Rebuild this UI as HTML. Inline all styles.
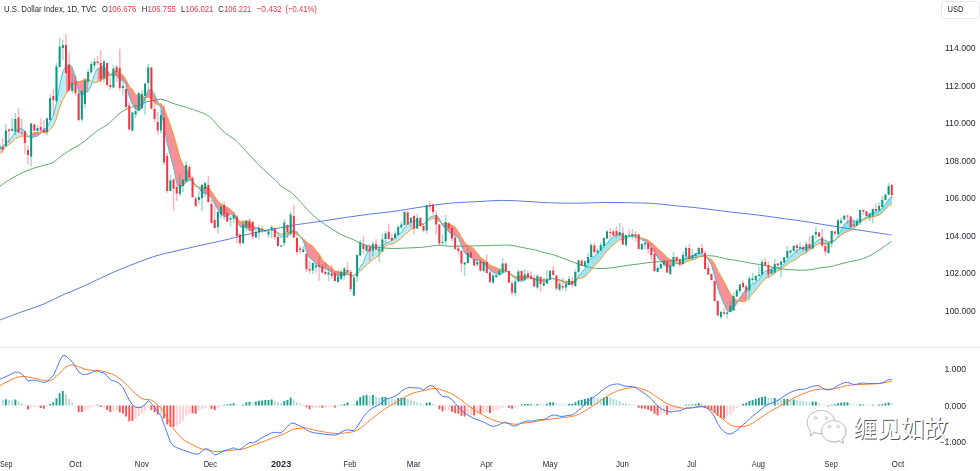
<!DOCTYPE html><html><head><meta charset="utf-8"><title>chart</title><style>html,body{margin:0;padding:0;background:#fff;overflow:hidden}svg{display:block}</style></head><body><svg width="980" height="471" viewBox="0 0 980 471" font-family="Liberation Sans, sans-serif"><rect width="980" height="471" fill="#fff"/><rect x="0" y="347" width="980" height="1" fill="#e6e8ee"/><defs><filter id="sb" x="-1%" y="-1%" width="102%" height="102%"><feGaussianBlur stdDeviation="0.38"/></filter></defs><g filter="url(#sb)"><path d="M0 320C3.57 318.67 14.25 314.6 21.4 312C28.55 309.4 35.75 307.35 42.9 304.4C50.05 301.45 57.17 297.48 64.3 294.3C71.43 291.12 78.57 288.52 85.7 285.3C92.83 282.08 99.95 278.22 107.1 275C114.25 271.78 121.45 268.85 128.6 266C135.75 263.15 144.65 259.8 150 257.9C155.35 256 157.13 255.58 160.7 254.6C164.27 253.62 166.03 253.25 171.4 252C176.77 250.75 186.47 248.55 192.9 247.1C199.33 245.65 204.65 244.48 210 243.3C215.35 242.12 219.17 241.38 225 240C230.83 238.62 238.33 236.58 245 235C251.67 233.42 258.33 231.83 265 230.5C271.67 229.17 279.83 227.95 285 227C290.17 226.05 290.07 225.75 296 224.8C301.93 223.85 312.42 222.5 320.6 221.3C328.78 220.1 337.12 218.77 345.1 217.6C353.08 216.43 360.18 215.37 368.5 214.3C376.82 213.23 387.25 212.25 395 211.2C402.75 210.15 408.33 209.03 415 208C421.67 206.97 428.33 205.87 435 205C441.67 204.13 447.5 203.38 455 202.8C462.5 202.22 472.37 201.9 480 201.5C487.63 201.1 493.87 200.47 500.8 200.4C507.73 200.33 513.5 200.7 521.6 201.1C529.7 201.5 540.13 202.45 549.4 202.8C558.67 203.15 567.95 203.25 577.2 203.2C586.45 203.15 595.65 202.57 604.9 202.5C614.15 202.43 624.6 202.63 632.7 202.8C640.8 202.97 646.57 203.03 653.5 203.5C660.43 203.97 666.2 204.78 674.3 205.6C682.4 206.42 692.85 207.35 702.1 208.4C711.35 209.45 720.55 210.8 729.8 211.9C739.05 213 748.35 213.85 757.6 215C766.85 216.15 777.4 217.72 785.3 218.8C793.2 219.88 798.38 220.5 805 221.5C811.62 222.5 818.33 223.72 825 224.8C831.67 225.88 838.33 226.97 845 228C851.67 229.03 858.33 230 865 231C871.67 232 880.55 233.33 885 234C889.45 234.67 890.58 234.83 891.7 235" fill="none" stroke="#587be0" stroke-width="1"/><path d="M0 186C2.5 184.42 10 179.25 15 176.5C20 173.75 25 171.42 30 169.5C35 167.58 41.17 166.17 45 165C48.83 163.83 50.5 163.83 53 162.5C55.5 161.17 57.17 159.08 60 157C62.83 154.92 66.67 152.08 70 150C73.33 147.92 76.67 146.75 80 144.5C83.33 142.25 87.08 138.83 90 136.5C92.92 134.17 95.5 131.92 97.5 130.5C99.5 129.08 99.92 129.33 102 128C104.08 126.67 107.33 124.75 110 122.5C112.67 120.25 115.33 116.67 118 114.5C120.67 112.33 123.33 110.83 126 109.5C128.67 108.17 131.83 107.17 134 106.5C136.17 105.83 137.33 106.08 139 105.5C140.67 104.92 142.5 103.67 144 103C145.5 102.33 146.33 101.92 148 101.5C149.67 101.08 152 100.88 154 100.5C156 100.12 158 99.2 160 99.2C162 99.2 164 99.87 166 100.5C168 101.13 170 102.25 172 103C174 103.75 176 104.42 178 105C180 105.58 181.83 105.87 184 106.5C186.17 107.13 189 108.13 191 108.8C193 109.47 193.5 109.55 196 110.5C198.5 111.45 203.33 113.08 206 114.5C208.67 115.92 209.83 116.92 212 119C214.17 121.08 216.67 124.58 219 127C221.33 129.42 223.5 131.5 226 133.5C228.5 135.5 231.67 137.13 234 139C236.33 140.87 237.05 141.62 240 144.7C242.95 147.78 247.8 153.42 251.7 157.5C255.6 161.58 259.52 165.5 263.4 169.2C267.28 172.9 271.9 176.78 275 179.7C278.1 182.62 279.27 184.55 282 186.7C284.73 188.85 288.67 190.45 291.4 192.6C294.13 194.75 295.28 196.3 298.4 199.6C301.52 202.9 306.4 208.78 310.1 212.4C313.8 216.02 316.7 218.37 320.6 221.3C324.5 224.23 329.42 227.5 333.5 230C337.58 232.5 342.02 234.8 345.1 236.3C348.18 237.8 349.85 238.05 352 239C354.15 239.95 356 241.08 358 242C360 242.92 361.67 243.75 364 244.5C366.33 245.25 369 245.97 372 246.5C375 247.03 378.67 247.37 382 247.7C385.33 248.03 388.67 248.42 392 248.5C395.33 248.58 398.67 248.32 402 248.2C405.33 248.08 408.67 247.95 412 247.8C415.33 247.65 418.67 247.6 422 247.3C425.33 247 429.17 246.33 432 246C434.83 245.67 436 245.25 439 245.3C442 245.35 446.5 246.15 450 246.3C453.5 246.45 455 246.28 460 246.2C465 246.12 473.33 245.97 480 245.8C486.67 245.63 495 245.3 500 245.2C505 245.1 506.67 244.9 510 245.2C513.33 245.5 516.67 246.37 520 247C523.33 247.63 527 248.42 530 249C533 249.58 536 250 538 250.5C540 251 539.33 251.25 542 252C544.67 252.75 550.17 253.83 554 255C557.83 256.17 561 257.5 565 259C569 260.5 573.83 262.58 578 264C582.17 265.42 586.33 266.75 590 267.5C593.67 268.25 596.67 268.42 600 268.5C603.33 268.58 606.67 268.33 610 268C613.33 267.67 616.67 267 620 266.5C623.33 266 626.67 265.45 630 265C633.33 264.55 636.67 264.23 640 263.8C643.33 263.37 646.67 262.73 650 262.4C653.33 262.07 656.67 262.07 660 261.8C663.33 261.53 666.67 261.1 670 260.8C673.33 260.5 676.67 260.38 680 260C683.33 259.62 686.67 259.08 690 258.5C693.33 257.92 697 256.95 700 256.5C703 256.05 705.5 255.85 708 255.8C710.5 255.75 712.17 255.75 715 256.2C717.83 256.65 721.17 257.73 725 258.5C728.83 259.27 733.5 260 738 260.8C742.5 261.6 748 262.6 752 263.3C756 264 758.67 264.38 762 265C765.33 265.62 768.67 266.33 772 267C775.33 267.67 778.67 268.53 782 269C785.33 269.47 788.67 269.6 792 269.8C795.33 270 798.67 270.25 802 270.2C805.33 270.15 808.67 269.95 812 269.5C815.33 269.05 819 267.95 822 267.5C825 267.05 827.07 267.35 830 266.8C832.93 266.25 836.42 265.03 839.6 264.2C842.78 263.37 845.92 262.52 849.1 261.8C852.28 261.08 855.52 260.78 858.7 259.9C861.88 259.02 865.33 257.78 868.2 256.5C871.07 255.22 873.35 253.78 875.9 252.2C878.45 250.62 880.87 248.8 883.5 247C886.13 245.2 890.33 242.33 891.7 241.4" fill="none" stroke="#5cab68" stroke-width="1"/><path d="M-0.46 150L2.7 146.3L2.7 149.85L-0.46 154.2ZM2.7 146.3L5.86 143.6L5.86 147.1L2.7 149.85ZM5.86 143.6L9.03 140.6L9.03 144.5L5.86 147.1ZM9.03 140.6L12.19 137L12.19 141.8L9.03 144.5ZM12.19 137L15.36 131.8L15.36 138.7L12.19 141.8ZM15.36 131.8L18.52 128.4L18.52 137.35L15.36 138.7ZM18.52 128.4L21.68 128.96L21.68 136.28L18.52 137.35ZM21.68 128.96L24.85 131.36L24.85 135.98L21.68 136.28ZM24.85 131.36L28.01 136.56L28.01 136.78L24.85 135.98ZM28.01 136.56L31.18 137.46L31.18 134.63L28.01 136.78ZM47 127.9L50.16 121.4L50.16 129.23L47 132.68ZM50.16 121.4L53.32 115.8L53.32 125.9L50.16 129.23ZM53.32 115.8L56.49 103L56.49 118.25L53.32 125.9ZM56.49 103L59.65 85.9L59.65 107.4L56.49 118.25ZM59.65 85.9L62.82 71.2L62.82 99.55L59.65 107.4ZM62.82 71.2L65.98 66.2L65.98 93.8L62.82 99.55ZM88.13 91.3L91.29 85.5L91.29 81.2L88.13 79.45ZM91.29 85.5L94.46 73.8L94.46 82.85L91.29 81.2ZM94.46 73.8L97.62 68.2L97.62 81.85L94.46 82.85ZM277.97 234.3L281.13 237.4L281.13 234.35L277.97 232.6ZM281.13 237.4L284.3 235.6L284.3 232.95L281.13 234.35ZM284.3 235.6L287.46 236.6L287.46 232.95L284.3 232.95ZM353.9 275.9L357.07 272.5L357.07 274.1L353.9 276ZM357.07 272.5L360.23 267.3L360.23 271.1L357.07 274.1ZM360.23 267.3L363.4 262.6L363.4 268.4L360.23 271.1ZM363.4 262.6L366.56 253.9L366.56 264.85L363.4 268.4ZM366.56 253.9L369.72 248.7L369.72 262.3L366.56 264.85ZM369.72 248.7L372.89 246.5L372.89 259.5L369.72 262.3ZM372.89 246.5L376.05 247.9L376.05 257.6L372.89 259.5ZM376.05 247.9L379.22 248L379.22 255.3L376.05 257.6ZM379.22 248L382.38 246.8L382.38 250.35L379.22 255.3ZM382.38 246.8L385.54 243.2L385.54 245.95L382.38 250.35ZM385.54 243.2L388.71 242.2L388.71 244.35L385.54 245.95ZM388.71 242.2L391.87 240.4L391.87 244.15L388.71 244.35ZM391.87 240.4L395.04 237.2L395.04 242.6L391.87 244.15ZM395.04 237.2L398.2 234.7L398.2 240.75L395.04 242.6ZM398.2 234.7L401.36 232.9L401.36 238.05L398.2 240.75ZM401.36 232.9L404.53 227.5L404.53 234.85L401.36 238.05ZM404.53 227.5L407.69 224.3L407.69 232.35L404.53 234.85ZM407.69 224.3L410.86 221.2L410.86 229.2L407.69 232.35ZM410.86 221.2L414.02 221.5L414.02 228.1L410.86 229.2ZM414.02 221.5L417.18 220.2L417.18 226.55L414.02 228.1ZM417.18 220.2L420.35 223L420.35 225.25L417.18 226.55ZM420.35 223L423.51 224.2L423.51 224.25L420.35 225.25ZM423.51 224.2L426.68 221.6L426.68 221.4L423.51 224.25ZM426.68 221.6L429.84 217.2L429.84 219.35L426.68 221.4ZM429.84 217.2L433 216L433 218.1L429.84 219.35ZM433 216L436.17 215.7L436.17 219.35L433 218.1ZM499.45 275.2L502.61 273.3L502.61 269.95L499.45 269.35ZM502.61 273.3L505.78 271.1L505.78 270.5L502.61 269.95Z" fill="#19bfd8" fill-opacity="0.29"/><path d="M578.55 276.1L581.71 272.3L581.71 278.05L578.55 278.6ZM581.71 272.3L584.88 268.8L584.88 276.7L581.71 278.05ZM584.88 268.8L588.04 263.3L588.04 273.55L584.88 276.7ZM588.04 263.3L591.2 257.9L591.2 269.7L588.04 273.55ZM591.2 257.9L594.37 256.2L594.37 266.15L591.2 269.7ZM594.37 256.2L597.53 253.2L597.53 262.75L594.37 266.15ZM597.53 253.2L600.7 249.9L600.7 259.35L597.53 262.75ZM600.7 249.9L603.86 246.1L603.86 254.7L600.7 259.35ZM603.86 246.1L607.02 243.4L607.02 250.65L603.86 254.7ZM607.02 243.4L610.19 239.6L610.19 247.9L607.02 250.65ZM610.19 239.6L613.35 236.6L613.35 244.9L610.19 247.9ZM613.35 236.6L616.52 234.7L616.52 242.3L613.35 244.9ZM616.52 234.7L619.68 233.5L619.68 239.8L616.52 242.3ZM619.68 233.5L622.84 236.1L622.84 239.75L619.68 239.8ZM622.84 236.1L626.01 236.5L626.01 238.05L622.84 239.75ZM626.01 236.5L629.17 236.6L629.17 236.6L626.01 238.05ZM629.17 236.6L632.34 236.3L632.34 235.5L629.17 236.6ZM632.34 236.3L635.5 237.1L635.5 235.3L632.34 235.5ZM635.5 237.1L638.66 238L638.66 237.05L635.5 235.3ZM638.66 238L641.83 239.8L641.83 238.15L638.66 237.05ZM673.47 264.2L676.63 263.5L676.63 262.45L673.47 260.7ZM676.63 263.5L679.8 264.1L679.8 264L676.63 262.45ZM679.8 264.1L682.96 260.6L682.96 264L679.8 264ZM682.96 260.6L686.12 257L686.12 261.7L682.96 264ZM686.12 257L689.29 257.3L689.29 260.75L686.12 261.7ZM689.29 257.3L692.45 256.2L692.45 259.85L689.29 260.75ZM692.45 256.2L695.62 254L695.62 259.05L692.45 259.85ZM695.62 254L698.78 252.6L698.78 256.6L695.62 259.05ZM698.78 252.6L701.94 253.6L701.94 255.3L698.78 256.6Z" fill="#19bfd8" fill-opacity="0.42"/><path d="M701.94 253.6L705.11 255.7L705.11 256.5L701.94 255.3ZM746.24 289.9L749.4 286.4L749.4 297.15L746.24 300.85ZM749.4 286.4L752.57 284L752.57 293.8L749.4 297.15ZM752.57 284L755.73 282.3L755.73 290.05L752.57 293.8ZM755.73 282.3L758.9 279.8L758.9 286.25L755.73 290.05ZM758.9 279.8L762.06 273.9L762.06 281.9L758.9 286.25ZM762.06 273.9L765.22 271.2L765.22 278.8L762.06 281.9ZM765.22 271.2L768.39 270.4L768.39 277.2L765.22 278.8ZM768.39 270.4L771.55 269.1L771.55 275.7L768.39 277.2ZM771.55 269.1L774.72 267L774.72 273.4L771.55 275.7ZM774.72 267L777.88 267.7L777.88 270.8L774.72 273.4ZM777.88 267.7L781.04 267L781.04 269.1L777.88 270.8ZM781.04 267L784.21 263.6L784.21 267L781.04 269.1ZM784.21 263.6L787.37 259.9L787.37 264.5L784.21 267ZM787.37 259.9L790.54 257.2L790.54 262.1L787.37 264.5ZM790.54 257.2L793.7 253.3L793.7 260.5L790.54 262.1ZM793.7 253.3L796.86 250.6L796.86 258.8L793.7 260.5ZM796.86 250.6L800.03 248.5L800.03 256.05L796.86 258.8ZM800.03 248.5L803.19 248.2L803.19 254.05L800.03 256.05ZM803.19 248.2L806.36 246.9L806.36 252.05L803.19 254.05ZM806.36 246.9L809.52 247.4L809.52 250.35L806.36 252.05ZM809.52 247.4L812.68 244.9L812.68 247.75L809.52 250.35ZM812.68 244.9L815.85 241.9L815.85 245.2L812.68 247.75ZM815.85 241.9L819.01 239.3L819.01 243.75L815.85 245.2ZM819.01 239.3L822.18 239.6L822.18 243.25L819.01 243.75ZM822.18 239.6L825.34 240.2L825.34 243.8L822.18 243.25ZM825.34 240.2L828.5 241.7L828.5 243.3L825.34 243.8ZM828.5 241.7L831.67 241.5L831.67 241.7L828.5 243.3ZM831.67 241.5L834.83 240.9L834.83 240.1L831.67 241.7ZM834.83 240.9L838 235.9L838 237.75L834.83 240.1ZM838 235.9L841.16 229.7L841.16 234.95L838 237.75Z" fill="#19bfd8" fill-opacity="0.38"/><path d="M841.16 229.7L844.32 224.3L844.32 233L841.16 234.95ZM844.32 224.3L847.49 221.4L847.49 231.45L844.32 233ZM847.49 221.4L850.65 220.1L850.65 230.5L847.49 231.45ZM850.65 220.1L853.82 221.2L853.82 228.55L850.65 230.5ZM853.82 221.2L856.98 221.3L856.98 225.5L853.82 228.55ZM856.98 221.3L860.14 220.1L860.14 222.2L856.98 225.5ZM860.14 220.1L863.31 219.1L863.31 220.25L860.14 222.2ZM863.31 219.1L866.47 216.9L866.47 218.5L863.31 220.25ZM866.47 216.9L869.64 214.4L869.64 217.8L866.47 218.5ZM869.64 214.4L872.8 212L872.8 216.65L869.64 217.8ZM872.8 212L875.96 212.2L875.96 216.15L872.8 216.65ZM875.96 212.2L879.13 211.1L879.13 215.1L875.96 216.15ZM879.13 211.1L882.29 207.9L882.29 212.4L879.13 215.1ZM882.29 207.9L885.46 204.16L885.46 209.28L882.29 212.4ZM885.46 204.16L888.62 199.56L888.62 205.78L885.46 209.28ZM888.62 199.56L891.78 196.36L891.78 204.28L888.62 205.78Z" fill="#19bfd8" fill-opacity="0.5"/><path d="M31.18 137.46L34.34 137.06L34.34 132.73L31.18 134.63ZM34.34 137.06L37.5 136L37.5 132.48L34.34 132.73ZM37.5 136L40.67 133.5L40.67 132.43L37.5 132.48ZM40.67 133.5L43.83 128.9L43.83 132.73L40.67 132.43ZM43.83 128.9L47 127.9L47 132.68L43.83 132.73ZM65.98 66.2L69.14 64.3L69.14 90.05L65.98 93.8ZM69.14 64.3L72.31 67.6L72.31 85.3L69.14 90.05ZM72.31 67.6L75.47 76.9L75.47 81.4L72.31 85.3ZM75.47 76.9L78.64 91.9L78.64 81.55L75.47 81.4ZM78.64 91.9L81.8 95.5L81.8 80.85L78.64 81.55ZM81.8 95.5L84.96 93.5L84.96 78.9L81.8 80.85ZM84.96 93.5L88.13 91.3L88.13 79.45L84.96 78.9ZM97.62 68.2L100.78 67.9L100.78 80.7L97.62 81.85ZM100.78 67.9L103.95 65.8L103.95 78.55L100.78 80.7ZM103.95 65.8L107.11 70L107.11 77.75L103.95 78.55ZM107.11 70L110.28 75.1L110.28 74.45L107.11 77.75ZM110.28 75.1L113.44 76.2L113.44 72.2L110.28 74.45ZM113.44 76.2L116.6 74.8L116.6 71.35L113.44 72.2ZM116.6 74.8L119.77 80.1L119.77 72.95L116.6 71.35ZM119.77 80.1L122.93 80.3L122.93 75.15L119.77 72.95ZM122.93 80.3L126.1 84.3L126.1 79.7L122.93 75.15ZM126.1 84.3L129.26 96.5L129.26 86.35L126.1 79.7ZM129.26 96.5L132.42 104.6L132.42 89.7L129.26 86.35ZM132.42 104.6L135.59 109.2L135.59 94.65L132.42 89.7ZM135.59 109.2L138.75 110.6L138.75 95.45L135.59 94.65ZM138.75 110.6L141.92 108L141.92 96.15L138.75 95.45ZM141.92 108L145.08 98.8L145.08 97.65L141.92 96.15ZM145.08 98.8L148.24 89.8L148.24 97.2L145.08 97.65ZM148.24 89.8L151.41 89.3L151.41 99.25L148.24 97.2ZM151.41 89.3L154.57 94.5L154.57 102.55L151.41 99.25ZM154.57 94.5L157.74 101.8L157.74 104.9L154.57 102.55ZM157.74 101.8L160.9 108.1L160.9 103.45L157.74 104.9ZM160.9 108.1L164.06 127.1L164.06 108.45L160.9 103.45ZM164.06 127.1L167.23 143.6L167.23 116.45L164.06 108.45ZM167.23 143.6L170.39 155.9L170.39 125.2L167.23 116.45ZM170.39 155.9L173.56 167.5L173.56 134.65L170.39 125.2ZM173.56 167.5L176.72 183.2L176.72 145.65L173.56 134.65ZM176.72 183.2L179.88 187.7L179.88 157.4L176.72 145.65ZM179.88 187.7L183.05 185.5L183.05 164.55L179.88 157.4ZM183.05 185.5L186.21 182.4L186.21 169.15L183.05 164.55ZM186.21 182.4L189.38 180.1L189.38 173.8L186.21 169.15ZM189.38 180.1L192.54 180.8L192.54 182L189.38 173.8ZM192.54 180.8L195.7 185L195.7 186.35L192.54 182ZM195.7 185L198.87 188.4L198.87 186.95L195.7 186.35ZM198.87 188.4L202.03 192.4L202.03 187.4L198.87 186.95ZM202.03 192.4L205.2 193.6L205.2 186.85L202.03 187.4ZM205.2 193.6L208.36 194.6L208.36 187.7L205.2 186.85ZM208.36 194.6L211.52 198L211.52 191.5L208.36 187.7ZM211.52 198L214.69 204.2L214.69 196.3L211.52 191.5ZM214.69 204.2L217.85 209.6L217.85 201L214.69 196.3ZM217.85 209.6L221.02 214.3L221.02 203.95L217.85 201ZM221.02 214.3L224.18 216.8L224.18 205.7L221.02 203.95ZM224.18 216.8L227.34 216.5L227.34 207.25L224.18 205.7ZM227.34 216.5L230.51 214.5L230.51 209.35L227.34 207.25ZM230.51 214.5L233.67 215.1L233.67 212.35L230.51 209.35ZM233.67 215.1L236.84 221L236.84 217.65L233.67 212.35ZM236.84 221L240 226.7L240 221.75L236.84 217.65ZM240 226.7L243.16 227.3L243.16 221.9L240 221.75ZM243.16 227.3L246.33 227.8L246.33 221.15L243.16 221.9ZM246.33 227.8L249.49 230.4L249.49 222.75L246.33 221.15ZM249.49 230.4L252.66 230.5L252.66 225.75L249.49 222.75ZM252.66 230.5L255.82 228.3L255.82 227.5L252.66 225.75ZM255.82 228.3L258.98 229L258.98 228.15L255.82 227.5ZM258.98 229L262.15 230.9L262.15 229.35L258.98 228.15ZM262.15 230.9L265.31 231.3L265.31 230.85L262.15 229.35ZM265.31 231.3L268.48 230.3L268.48 230.4L265.31 230.85ZM268.48 230.3L271.64 229.3L271.64 228.8L268.48 230.4ZM271.64 229.3L274.8 231.1L274.8 230.05L271.64 228.8ZM274.8 231.1L277.97 234.3L277.97 232.6L274.8 230.05ZM287.46 236.6L290.62 232.1L290.62 231.6L287.46 232.95ZM290.62 232.1L293.79 230.4L293.79 232.35L290.62 231.6ZM293.79 230.4L296.95 231.7L296.95 234.55L293.79 232.35ZM296.95 231.7L300.12 237.2L300.12 236.4L296.95 234.55ZM300.12 237.2L303.28 240.7L303.28 238.65L300.12 236.4ZM303.28 240.7L306.44 251.6L306.44 241.85L303.28 238.65ZM306.44 251.6L309.61 258.2L309.61 244.3L306.44 241.85ZM309.61 258.2L312.77 260.4L312.77 246.05L309.61 244.3ZM312.77 260.4L315.94 263.5L315.94 250.35L312.77 246.05ZM315.94 263.5L319.1 266.9L319.1 253.8L315.94 250.35ZM319.1 266.9L322.26 267.6L322.26 259.6L319.1 253.8ZM322.26 267.6L325.43 268.3L325.43 263.25L322.26 259.6ZM325.43 268.3L328.59 270.2L328.59 265.3L325.43 263.25ZM328.59 270.2L331.76 272.3L331.76 267.9L328.59 265.3ZM331.76 272.3L334.92 275.2L334.92 271.05L331.76 267.9ZM334.92 275.2L338.08 276.1L338.08 271.85L334.92 271.05ZM338.08 276.1L341.25 275.7L341.25 272L338.08 271.85ZM341.25 275.7L344.41 274.9L344.41 272.55L341.25 272ZM344.41 274.9L347.58 274.2L347.58 273.25L344.41 272.55ZM347.58 274.2L350.74 275.8L350.74 275.5L347.58 273.25ZM350.74 275.8L353.9 275.9L353.9 276L350.74 275.5ZM436.17 215.7L439.33 218.3L439.33 221.25L436.17 219.35ZM439.33 218.3L442.5 225.7L442.5 223.65L439.33 221.25ZM442.5 225.7L445.66 228.8L445.66 223L442.5 223.65ZM445.66 228.8L448.82 231.9L448.82 223.95L445.66 223ZM448.82 231.9L451.99 234.7L451.99 225.2L448.82 223.95ZM451.99 234.7L455.15 235.8L455.15 227.05L451.99 225.2ZM455.15 235.8L458.32 237.6L458.32 231.65L455.15 227.05ZM458.32 237.6L461.48 245.9L461.48 237.35L458.32 231.65ZM461.48 245.9L464.64 252.9L464.64 242.4L461.48 237.35ZM464.64 252.9L467.81 255.8L467.81 245.25L464.64 242.4ZM467.81 255.8L470.97 257.5L470.97 246.65L467.81 245.25ZM470.97 257.5L474.14 260.4L474.14 249L470.97 246.65ZM474.14 260.4L477.3 260.1L477.3 253L474.14 249ZM477.3 260.1L480.46 261.7L480.46 257.3L477.3 253ZM480.46 261.7L483.63 263.5L483.63 259.65L480.46 257.3ZM483.63 263.5L486.79 266.6L486.79 262.05L483.63 259.65ZM486.79 266.6L489.96 269.9L489.96 265.15L486.79 262.05ZM489.96 269.9L493.12 272.6L493.12 266.35L489.96 265.15ZM493.12 272.6L496.28 273.5L496.28 267.6L493.12 266.35ZM496.28 273.5L499.45 275.2L499.45 269.35L496.28 267.6ZM505.78 271.1L508.94 272.5L508.94 272.55L505.78 270.5ZM508.94 272.5L512.1 276L512.1 274.75L508.94 272.55ZM512.1 276L515.27 278.2L515.27 276.7L512.1 274.75ZM515.27 278.2L518.43 279.8L518.43 276.55L515.27 276.7ZM518.43 279.8L521.6 281.6L521.6 276.35L518.43 276.55ZM521.6 281.6L524.76 280L524.76 276.25L521.6 276.35ZM524.76 280L527.92 277L527.92 276.5L524.76 276.25ZM527.92 277L531.09 276.5L531.09 277.35L527.92 276.5ZM531.09 276.5L534.25 279.5L534.25 279.65L531.09 277.35ZM534.25 279.5L537.42 278.7L537.42 280.15L534.25 279.65ZM537.42 278.7L540.58 280.6L540.58 280.3L537.42 280.15ZM540.58 280.6L543.74 281.7L543.74 279.35L540.58 280.3ZM543.74 281.7L546.91 281.8L546.91 279.15L543.74 279.35ZM546.91 281.8L550.07 278.7L550.07 279.1L546.91 279.15ZM550.07 278.7L553.24 278.5L553.24 278.6L550.07 279.1ZM553.24 278.5L556.4 279.4L556.4 280L553.24 278.6ZM556.4 279.4L559.56 279.5L559.56 280.6L556.4 280ZM559.56 279.5L562.73 281.1L562.73 281.45L559.56 280.6ZM562.73 281.1L565.89 283.8L565.89 281.25L562.73 281.45ZM565.89 283.8L569.06 284.6L569.06 281.55L565.89 281.25ZM569.06 284.6L572.22 283.8L572.22 281.6L569.06 281.55ZM572.22 283.8L575.38 281.5L575.38 280.5L572.22 281.6ZM575.38 281.5L578.55 276.1L578.55 278.6L575.38 280.5ZM641.83 239.8L644.99 241.2L644.99 238.9L641.83 238.15ZM644.99 241.2L648.16 244.2L648.16 240.25L644.99 238.9ZM648.16 244.2L651.32 248L651.32 242.55L648.16 240.25ZM651.32 248L654.48 252.4L654.48 245.2L651.32 242.55ZM654.48 252.4L657.65 257.2L657.65 248.5L654.48 245.2ZM657.65 257.2L660.81 261.4L660.81 251.3L657.65 248.5ZM660.81 261.4L663.98 263.9L663.98 254.05L660.81 251.3ZM663.98 263.9L667.14 267.4L667.14 257.7L663.98 254.05ZM667.14 267.4L670.3 266.4L670.3 259.4L667.14 257.7ZM670.3 266.4L673.47 264.2L673.47 260.7L670.3 259.4ZM705.11 255.7L708.27 259.6L708.27 257.9L705.11 256.5ZM708.27 259.6L711.44 264.9L711.44 259.45L708.27 257.9ZM711.44 264.9L714.6 275.5L714.6 264.05L711.44 259.45ZM714.6 275.5L717.76 288L717.76 270.8L714.6 264.05ZM717.76 288L720.93 296.6L720.93 276.15L717.76 270.8ZM720.93 296.6L724.09 304.4L724.09 282L720.93 276.15ZM724.09 304.4L727.26 310.9L727.26 287.9L724.09 282ZM727.26 310.9L730.42 311.8L730.42 293.65L727.26 287.9ZM730.42 311.8L733.58 307.9L733.58 297.95L730.42 293.65ZM733.58 307.9L736.75 303.6L736.75 300.1L733.58 297.95ZM736.75 303.6L739.91 297.8L739.91 301.1L736.75 300.1ZM739.91 297.8L743.08 292.7L743.08 301.8L739.91 301.1ZM743.08 292.7L746.24 289.9L746.24 300.85L743.08 301.8Z" fill="#f23645" fill-opacity="0.55"/><path d="M-0.46 154.2L2.7 149.85L5.86 147.1L9.03 144.5L12.19 141.8L15.36 138.7L18.52 137.35L21.68 136.28L24.85 135.98L28.01 136.78L31.18 134.63L34.34 132.73L37.5 132.48L40.67 132.43L43.83 132.73L47 132.68L50.16 129.23L53.32 125.9L56.49 118.25L59.65 107.4L62.82 99.55L65.98 93.8L69.14 90.05L72.31 85.3L75.47 81.4L78.64 81.55L81.8 80.85L84.96 78.9L88.13 79.45L91.29 81.2L94.46 82.85L97.62 81.85L100.78 80.7L103.95 78.55L107.11 77.75L110.28 74.45L113.44 72.2L116.6 71.35L119.77 72.95L122.93 75.15L126.1 79.7L129.26 86.35L132.42 89.7L135.59 94.65L138.75 95.45L141.92 96.15L145.08 97.65L148.24 97.2L151.41 99.25L154.57 102.55L157.74 104.9L160.9 103.45L164.06 108.45L167.23 116.45L170.39 125.2L173.56 134.65L176.72 145.65L179.88 157.4L183.05 164.55L186.21 169.15L189.38 173.8L192.54 182L195.7 186.35L198.87 186.95L202.03 187.4L205.2 186.85L208.36 187.7L211.52 191.5L214.69 196.3L217.85 201L221.02 203.95L224.18 205.7L227.34 207.25L230.51 209.35L233.67 212.35L236.84 217.65L240 221.75L243.16 221.9L246.33 221.15L249.49 222.75L252.66 225.75L255.82 227.5L258.98 228.15L262.15 229.35L265.31 230.85L268.48 230.4L271.64 228.8L274.8 230.05L277.97 232.6L281.13 234.35L284.3 232.95L287.46 232.95L290.62 231.6L293.79 232.35L296.95 234.55L300.12 236.4L303.28 238.65L306.44 241.85L309.61 244.3L312.77 246.05L315.94 250.35L319.1 253.8L322.26 259.6L325.43 263.25L328.59 265.3L331.76 267.9L334.92 271.05L338.08 271.85L341.25 272L344.41 272.55L347.58 273.25L350.74 275.5L353.9 276L357.07 274.1L360.23 271.1L363.4 268.4L366.56 264.85L369.72 262.3L372.89 259.5L376.05 257.6L379.22 255.3L382.38 250.35L385.54 245.95L388.71 244.35L391.87 244.15L395.04 242.6L398.2 240.75L401.36 238.05L404.53 234.85L407.69 232.35L410.86 229.2L414.02 228.1L417.18 226.55L420.35 225.25L423.51 224.25L426.68 221.4L429.84 219.35L433 218.1L436.17 219.35L439.33 221.25L442.5 223.65L445.66 223L448.82 223.95L451.99 225.2L455.15 227.05L458.32 231.65L461.48 237.35L464.64 242.4L467.81 245.25L470.97 246.65L474.14 249L477.3 253L480.46 257.3L483.63 259.65L486.79 262.05L489.96 265.15L493.12 266.35L496.28 267.6L499.45 269.35L502.61 269.95L505.78 270.5L508.94 272.55L512.1 274.75L515.27 276.7L518.43 276.55L521.6 276.35L524.76 276.25L527.92 276.5L531.09 277.35L534.25 279.65L537.42 280.15L540.58 280.3L543.74 279.35L546.91 279.15L550.07 279.1L553.24 278.6L556.4 280L559.56 280.6L562.73 281.45L565.89 281.25L569.06 281.55L572.22 281.6L575.38 280.5L578.55 278.6L581.71 278.05L584.88 276.7L588.04 273.55L591.2 269.7L594.37 266.15L597.53 262.75L600.7 259.35L603.86 254.7L607.02 250.65L610.19 247.9L613.35 244.9L616.52 242.3L619.68 239.8L622.84 239.75L626.01 238.05L629.17 236.6L632.34 235.5L635.5 235.3L638.66 237.05L641.83 238.15L644.99 238.9L648.16 240.25L651.32 242.55L654.48 245.2L657.65 248.5L660.81 251.3L663.98 254.05L667.14 257.7L670.3 259.4L673.47 260.7L676.63 262.45L679.8 264L682.96 264L686.12 261.7L689.29 260.75L692.45 259.85L695.62 259.05L698.78 256.6L701.94 255.3L705.11 256.5L708.27 257.9L711.44 259.45L714.6 264.05L717.76 270.8L720.93 276.15L724.09 282L727.26 287.9L730.42 293.65L733.58 297.95L736.75 300.1L739.91 301.1L743.08 301.8L746.24 300.85L749.4 297.15L752.57 293.8L755.73 290.05L758.9 286.25L762.06 281.9L765.22 278.8L768.39 277.2L771.55 275.7L774.72 273.4L777.88 270.8L781.04 269.1L784.21 267L787.37 264.5L790.54 262.1L793.7 260.5L796.86 258.8L800.03 256.05L803.19 254.05L806.36 252.05L809.52 250.35L812.68 247.75L815.85 245.2L819.01 243.75L822.18 243.25L825.34 243.8L828.5 243.3L831.67 241.7L834.83 240.1L838 237.75L841.16 234.95L844.32 233L847.49 231.45L850.65 230.5L853.82 228.55L856.98 225.5L860.14 222.2L863.31 220.25L866.47 218.5L869.64 217.8L872.8 216.65L875.96 216.15L879.13 215.1L882.29 212.4L885.46 209.28L888.62 205.78L891.78 204.28" fill="none" stroke="#ff9a1f" stroke-width="1" stroke-linejoin="round"/><path d="M-0.46 150L2.7 146.3L5.86 143.6L9.03 140.6L12.19 137L15.36 131.8L18.52 128.4L21.68 128.96L24.85 131.36L28.01 136.56L31.18 137.46L34.34 137.06L37.5 136L40.67 133.5L43.83 128.9L47 127.9L50.16 121.4L53.32 115.8L56.49 103L59.65 85.9L62.82 71.2L65.98 66.2L69.14 64.3L72.31 67.6L75.47 76.9L78.64 91.9L81.8 95.5L84.96 93.5L88.13 91.3L91.29 85.5L94.46 73.8L97.62 68.2L100.78 67.9L103.95 65.8L107.11 70L110.28 75.1L113.44 76.2L116.6 74.8L119.77 80.1L122.93 80.3L126.1 84.3L129.26 96.5L132.42 104.6L135.59 109.2L138.75 110.6L141.92 108L145.08 98.8L148.24 89.8L151.41 89.3L154.57 94.5L157.74 101.8L160.9 108.1L164.06 127.1L167.23 143.6L170.39 155.9L173.56 167.5L176.72 183.2L179.88 187.7L183.05 185.5L186.21 182.4L189.38 180.1L192.54 180.8L195.7 185L198.87 188.4L202.03 192.4L205.2 193.6L208.36 194.6L211.52 198L214.69 204.2L217.85 209.6L221.02 214.3L224.18 216.8L227.34 216.5L230.51 214.5L233.67 215.1L236.84 221L240 226.7L243.16 227.3L246.33 227.8L249.49 230.4L252.66 230.5L255.82 228.3L258.98 229L262.15 230.9L265.31 231.3L268.48 230.3L271.64 229.3L274.8 231.1L277.97 234.3L281.13 237.4L284.3 235.6L287.46 236.6L290.62 232.1L293.79 230.4L296.95 231.7L300.12 237.2L303.28 240.7L306.44 251.6L309.61 258.2L312.77 260.4L315.94 263.5L319.1 266.9L322.26 267.6L325.43 268.3L328.59 270.2L331.76 272.3L334.92 275.2L338.08 276.1L341.25 275.7L344.41 274.9L347.58 274.2L350.74 275.8L353.9 275.9L357.07 272.5L360.23 267.3L363.4 262.6L366.56 253.9L369.72 248.7L372.89 246.5L376.05 247.9L379.22 248L382.38 246.8L385.54 243.2L388.71 242.2L391.87 240.4L395.04 237.2L398.2 234.7L401.36 232.9L404.53 227.5L407.69 224.3L410.86 221.2L414.02 221.5L417.18 220.2L420.35 223L423.51 224.2L426.68 221.6L429.84 217.2L433 216L436.17 215.7L439.33 218.3L442.5 225.7L445.66 228.8L448.82 231.9L451.99 234.7L455.15 235.8L458.32 237.6L461.48 245.9L464.64 252.9L467.81 255.8L470.97 257.5L474.14 260.4L477.3 260.1L480.46 261.7L483.63 263.5L486.79 266.6L489.96 269.9L493.12 272.6L496.28 273.5L499.45 275.2L502.61 273.3L505.78 271.1L508.94 272.5L512.1 276L515.27 278.2L518.43 279.8L521.6 281.6L524.76 280L527.92 277L531.09 276.5L534.25 279.5L537.42 278.7L540.58 280.6L543.74 281.7L546.91 281.8L550.07 278.7L553.24 278.5L556.4 279.4L559.56 279.5L562.73 281.1L565.89 283.8L569.06 284.6L572.22 283.8L575.38 281.5L578.55 276.1L581.71 272.3L584.88 268.8L588.04 263.3L591.2 257.9L594.37 256.2L597.53 253.2L600.7 249.9L603.86 246.1L607.02 243.4L610.19 239.6L613.35 236.6L616.52 234.7L619.68 233.5L622.84 236.1L626.01 236.5L629.17 236.6L632.34 236.3L635.5 237.1L638.66 238L641.83 239.8L644.99 241.2L648.16 244.2L651.32 248L654.48 252.4L657.65 257.2L660.81 261.4L663.98 263.9L667.14 267.4L670.3 266.4L673.47 264.2L676.63 263.5L679.8 264.1L682.96 260.6L686.12 257L689.29 257.3L692.45 256.2L695.62 254L698.78 252.6L701.94 253.6L705.11 255.7L708.27 259.6L711.44 264.9L714.6 275.5L717.76 288L720.93 296.6L724.09 304.4L727.26 310.9L730.42 311.8L733.58 307.9L736.75 303.6L739.91 297.8L743.08 292.7L746.24 289.9L749.4 286.4L752.57 284L755.73 282.3L758.9 279.8L762.06 273.9L765.22 271.2L768.39 270.4L771.55 269.1L774.72 267L777.88 267.7L781.04 267L784.21 263.6L787.37 259.9L790.54 257.2L793.7 253.3L796.86 250.6L800.03 248.5L803.19 248.2L806.36 246.9L809.52 247.4L812.68 244.9L815.85 241.9L819.01 239.3L822.18 239.6L825.34 240.2L828.5 241.7L831.67 241.5L834.83 240.9L838 235.9L841.16 229.7L844.32 224.3L847.49 221.4L850.65 220.1L853.82 221.2L856.98 221.3L860.14 220.1L863.31 219.1L866.47 216.9L869.64 214.4L872.8 212L875.96 212.2L879.13 211.1L882.29 207.9L885.46 204.16L888.62 199.56L891.78 196.36" fill="none" stroke="#2cc3dc" stroke-width="0.9" stroke-linejoin="round"/><path d="M-0.46 143V150M5.86 124V147M12.19 118V131.5M15.36 113V135M31.18 123V166.5M37.5 125V134M47 117.5V135.5M50.16 94V121M56.49 63V102M59.65 38V67.5M62.82 39.5V60.5M72.31 73V93.5M81.8 90V121.5M84.96 79.5V108.5M88.13 69V82M91.29 61V73.5M94.46 58V70M103.95 59V82.5M113.44 65V88M122.93 76V95.5M132.42 111.5V131.5M135.59 104.5V118M138.75 92V111M141.92 90V109.5M145.08 83V114.5M148.24 64V89M160.9 110V133.5M170.39 174.5V191.5M179.88 175V196.5M183.05 179V192M186.21 161V181.5M198.87 191V204M202.03 184V211M205.2 182V197M217.85 210.5V233.5M221.02 205.5V218.5M230.51 216V226.5M233.67 212V223M243.16 219.5V244M246.33 220V231.5M255.82 229V238M258.98 225V239.5M265.31 229.5V231.5M268.48 229V238M271.64 225V238.5M281.13 245V247M284.3 219.5V246M290.62 212V236M303.28 246V252.5M312.77 262.5V274M315.94 263V273M328.59 268.5V281M338.08 270V282.5M341.25 270V280M344.41 267V279.5M353.9 277V296M357.07 254.5V282M360.23 240V256M366.56 245V252M372.89 241.5V256.5M379.22 245V262M382.38 233.5V252M385.54 231V243.5M395.04 231V239.5M398.2 224.5V235.5M401.36 221.5V229M404.53 211V225.5M410.86 217V227.5M417.18 214V229M426.68 204.5V233.5M442.5 235V245.5M445.66 215V246M464.64 262V276M467.81 248V263.5M477.3 259V266.5M483.63 261.5V272.5M493.12 274V284M496.28 274.5V278M499.45 268V275.5M502.61 258V273.5M515.27 279V296.5M518.43 269.5V282M524.76 269V281M537.42 274V289M543.74 277.5V286.5M546.91 270V284M550.07 270V280M559.56 281V291.5M565.89 282V291M569.06 276V285.5M575.38 269.5V287M578.55 259.5V273M584.88 260V267M588.04 253V263.5M591.2 243V257.5M597.53 248.5V254.5M600.7 242.5V251M603.86 237.5V247.5M607.02 230V239M619.68 223V236M626.01 234.5V247M632.34 229V239.5M641.83 243.5V250M644.99 241.5V249.5M657.65 265.5V272.5M660.81 263.5V269M663.98 259V266.5M670.3 265V275M673.47 252V267M682.96 252V264.5M686.12 246.5V257M692.45 249V259.5M695.62 253V256.5M698.78 247V254.5M720.93 310.5V319M727.26 311.5V318.5M730.42 301.5V312.5M733.58 293V311M736.75 289V297M739.91 284V293.5M749.4 276.5V300.5M752.57 273V283M755.73 275V281M758.9 266V276.5M762.06 259V275M771.55 267V274M774.72 258.5V273M781.04 261V277.5M784.21 256.5V263M787.37 246V258.5M790.54 249.5V256.5M793.7 244.5V251.5M800.03 242.5V250M806.36 241.5V254.5M812.68 235V249M815.85 227V239M828.5 242V254M831.67 230.5V247.5M838 219V234.5M841.16 217.5V224.5M844.32 214.5V220.5M856.98 218V226M860.14 209.5V225M869.64 213V221M872.8 208.5V223.5M879.13 202.5V211M882.29 196V207.5M885.46 193.8V200.5M888.62 183V195.3" stroke="#089981" stroke-width="1.5" stroke-opacity="0.36" fill="none"/><path d="M2.7 138V153.5M9.03 128.5V143M18.52 108.5V133M21.68 119V135M24.85 130.5V154M28.01 145V164.5M34.34 124V135M40.67 118V132.5M43.83 120V132.5M53.32 89V115M65.98 34V74M69.14 52.5V91M75.47 76V95.5M78.64 93V122M97.62 56V65.5M100.78 50V82.5M107.11 62.5V87M110.28 77.5V89.5M116.6 65V82M119.77 49V91M126.1 82.5V109M129.26 102V130.5M151.41 67V109.5M154.57 100V122M157.74 112V134.5M164.06 105V165.5M167.23 153V193M173.56 178V210.5M176.72 184V201M189.38 165V178M192.54 176V198M195.7 197V207M208.36 176V202.5M211.52 200V223.5M214.69 206V228.5M224.18 201.5V219.5M227.34 208V222M236.84 215V243M240 233.5V245.5M249.49 218V232.5M252.66 221V239.5M262.15 226V233M274.8 227V239.5M277.97 235V246.5M287.46 224.5V238.5M293.79 205V238M296.95 237V255M300.12 245.5V253.5M306.44 253V272M309.61 261V273.5M319.1 256.5V281M322.26 264V273.5M325.43 262V275M331.76 265V279M334.92 271V281.5M347.58 262V273.5M350.74 270V291.5M363.4 236V254.5M369.72 244.5V261M376.05 239V250M388.71 223.5V239.5M391.87 234.5V241M407.69 211V225M414.02 215V234M420.35 217V226.5M423.51 223.5V232.5M429.84 201V210.5M433 203.5V214.5M436.17 210.5V234.5M439.33 224V245.5M448.82 222V230M451.99 227V241.5M455.15 236.5V249.5M458.32 245V254.5M461.48 250V272.5M470.97 250.5V258M474.14 259V266M480.46 259V272M486.79 254V273.5M489.96 271V283.5M505.78 263V272.5M508.94 270.5V283M512.1 281V295M521.6 270.5V280.5M527.92 271V280M531.09 271.5V279.5M534.25 275V287M540.58 276V292M553.24 266V275.5M556.4 275V290.5M562.73 277.5V290M572.22 277V287.5M581.71 259.5V266M594.37 243V254M610.19 228V239M613.35 230V236M616.52 226V238M622.84 227V245M629.17 229V236.5M635.5 231V241.5M638.66 234V249.5M648.16 242V253.5M651.32 247V260.5M654.48 247.5V272M667.14 261V273M676.63 256.5V262.5M679.8 258.5V267M689.29 244.5V259.5M701.94 244V253.5M705.11 251V269.5M708.27 263V275M711.44 273.5V280.5M714.6 280.5V301.5M717.76 300V316M724.09 308V315.5M743.08 280.5V288.5M746.24 284.5V299M765.22 258V266.5M768.39 261.5V278M777.88 263V267.5M796.86 243.5V253.5M803.19 245.5V251.5M809.52 236V249M819.01 232V237M822.18 229V247.5M825.34 241.5V255.5M834.83 231V235.5M847.49 215V223.5M850.65 216V227.5M853.82 219V226.5M863.31 209.5V215M866.47 210.5V216.5M875.96 203.5V211.5M891.78 184V197.8" stroke="#f23645" stroke-width="1.5" stroke-opacity="0.36" fill="none"/><path d="M-1.46 145.5h2V149h-2ZM4.86 130.5h2V146h-2ZM11.19 129h2V131h-2ZM14.36 119h2V131.5h-2ZM30.18 123.5h2V156.5h-2ZM36.5 128h2V131h-2ZM46 118.5h2V132h-2ZM49.16 98h2V120h-2ZM55.49 66.5h2V101h-2ZM58.65 46.5h2V67h-2ZM61.82 45h2V48h-2ZM71.31 83h2V91h-2ZM80.8 91h2V119.5h-2ZM83.96 80.5h2V104h-2ZM87.13 72h2V81.5h-2ZM90.29 64h2V72.5h-2ZM93.46 61.5h2V65.5h-2ZM102.95 61.5h2V78h-2ZM112.44 68.5h2V87.5h-2ZM121.93 86h2V88h-2ZM131.42 112.5h2V130.5h-2ZM134.59 111h2V114.5h-2ZM137.75 93h2V110.5h-2ZM140.92 94h2V108h-2ZM144.08 83.5h2V96h-2ZM147.24 67.5h2V83h-2ZM159.9 115h2V130.5h-2ZM169.39 180.5h2V191h-2ZM178.88 185h2V194h-2ZM182.05 180h2V186h-2ZM185.21 165h2V181h-2ZM197.87 197h2V200h-2ZM201.03 185h2V198h-2ZM204.2 183h2V189h-2ZM216.85 212h2V227h-2ZM220.02 206.5h2V214.5h-2ZM229.51 218h2V219.5h-2ZM232.67 215h2V218.5h-2ZM242.16 224.5h2V243h-2ZM245.33 220.5h2V227h-2ZM254.82 232h2V237.5h-2ZM257.98 228h2V232.5h-2ZM264.31 230h2V231h-2ZM267.48 231.5h2V234.5h-2ZM270.64 227h2V230.5h-2ZM280.13 245.5h2V246.5h-2ZM283.3 222.5h2V243h-2ZM289.62 214.5h2V234h-2ZM302.28 249.5h2V252h-2ZM311.77 263h2V270.5h-2ZM314.94 265.5h2V267.5h-2ZM327.59 272.5h2V274.5h-2ZM337.08 277h2V282h-2ZM340.25 272h2V279h-2ZM343.41 268.5h2V275.5h-2ZM352.9 277.5h2V295.5h-2ZM356.07 255h2V276.5h-2ZM359.23 242.5h2V255.5h-2ZM365.56 245.5h2V251h-2ZM371.89 244h2V250.5h-2ZM378.22 249.5h2V251h-2ZM381.38 239.5h2V251.5h-2ZM384.54 233.5h2V239h-2ZM394.04 233.5h2V238h-2ZM397.2 227h2V235h-2ZM400.36 224.5h2V227.5h-2ZM403.53 212h2V225h-2ZM409.86 218h2V222.5h-2ZM416.18 218h2V228.5h-2ZM425.68 205h2V230.5h-2ZM441.5 242h2V243h-2ZM444.66 222h2V241.5h-2ZM463.64 262.5h2V264.5h-2ZM466.81 253h2V263h-2ZM476.3 262h2V264.5h-2ZM482.63 262h2V271h-2ZM492.12 275.5h2V282.5h-2ZM495.28 275h2V277h-2ZM498.45 270.5h2V274.5h-2ZM501.61 263.5h2V272.5h-2ZM514.27 281.5h2V293h-2ZM517.43 271.5h2V281.5h-2ZM523.76 274.5h2V279.5h-2ZM536.42 276h2V287.5h-2ZM542.74 283h2V285.5h-2ZM545.91 279.5h2V283.5h-2ZM549.07 271h2V279.5h-2ZM558.56 283.5h2V289.5h-2ZM564.89 284.5h2V287.5h-2ZM568.06 279h2V285h-2ZM574.38 272h2V286h-2ZM577.55 260.5h2V272h-2ZM583.88 261.5h2V266h-2ZM587.04 257h2V263h-2ZM590.2 245h2V257h-2ZM596.53 250.5h2V252.5h-2ZM599.7 245h2V250.5h-2ZM602.86 238h2V246h-2ZM606.02 231.5h2V238.5h-2ZM618.68 232h2V235.5h-2ZM625.01 235h2V245h-2ZM631.34 234h2V236h-2ZM640.83 244h2V249.5h-2ZM643.99 243h2V244.5h-2ZM656.65 268h2V272h-2ZM659.81 264h2V268.5h-2ZM662.98 261.5h2V264.5h-2ZM669.3 266h2V274h-2ZM672.47 257h2V266.5h-2ZM681.96 255h2V264h-2ZM685.12 248h2V256.5h-2ZM691.45 255h2V258h-2ZM694.62 253.5h2V256h-2ZM697.78 248h2V254h-2ZM719.93 312h2V317h-2ZM726.26 312.5h2V314h-2ZM729.42 305.5h2V312h-2ZM732.58 296h2V310.5h-2ZM735.75 290.5h2V296.5h-2ZM738.91 284.5h2V291h-2ZM748.4 278.5h2V290.5h-2ZM751.57 278.5h2V280h-2ZM754.73 276h2V280.5h-2ZM757.9 274.5h2V276h-2ZM761.06 262h2V274.5h-2ZM770.55 269.5h2V273.5h-2ZM773.72 264h2V272.5h-2ZM780.04 261.5h2V265h-2ZM783.21 257.5h2V262.5h-2ZM786.37 251h2V258h-2ZM789.54 250.5h2V252.5h-2ZM792.7 246h2V251h-2ZM799.03 247h2V248.5h-2ZM805.36 244h2V250.5h-2ZM811.68 235.5h2V248.5h-2ZM814.85 232h2V234.5h-2ZM827.5 243h2V253h-2ZM830.67 231h2V243.5h-2ZM837 220.5h2V234h-2ZM840.16 220.5h2V223h-2ZM843.32 216h2V219.5h-2ZM855.98 221h2V225.5h-2ZM859.14 210h2V222.5h-2ZM868.64 213.5h2V217h-2ZM871.8 209h2V215.5h-2ZM878.13 206h2V210.5h-2ZM881.29 200h2V207h-2ZM884.46 194.8h2V200h-2ZM887.62 186h2V194.8h-2Z" fill="#089981"/><path d="M1.7 146.5h2V149.5h-2ZM8.03 129.5h2V131h-2ZM17.52 117.5h2V132.5h-2ZM20.68 132.5h2V133.3h-2ZM23.85 131h2V143h-2ZM27.01 150h2V155h-2ZM33.34 124.5h2V130.5h-2ZM39.67 127h2V130.5h-2ZM42.83 130h2V132h-2ZM52.32 96h2V100h-2ZM64.98 45h2V73h-2ZM68.14 65h2V90.5h-2ZM74.47 81.5h2V93h-2ZM77.64 93.5h2V120h-2ZM96.62 61.5h2V63h-2ZM99.78 63h2V79h-2ZM106.11 63h2V85h-2ZM109.28 85h2V87h-2ZM115.6 67h2V72h-2ZM118.77 68h2V88h-2ZM125.1 89h2V107h-2ZM128.26 105.5h2V129.5h-2ZM150.41 67.5h2V108.5h-2ZM153.57 109h2V119h-2ZM156.74 122h2V130.5h-2ZM163.06 117.5h2V162.5h-2ZM166.23 156h2V191h-2ZM172.56 179.5h2V188.5h-2ZM175.72 187h2V193.5h-2ZM188.38 167h2V177h-2ZM191.54 178h2V197h-2ZM194.7 198.5h2V206h-2ZM207.36 185h2V202h-2ZM210.52 204h2V223h-2ZM213.69 220h2V228h-2ZM223.18 205h2V214.5h-2ZM226.34 213h2V221.5h-2ZM235.84 216.5h2V236h-2ZM239 234.5h2V243h-2ZM248.49 220.5h2V228h-2ZM251.66 222h2V236.5h-2ZM261.15 229h2V230h-2ZM273.8 228.5h2V237h-2ZM276.97 237h2V246h-2ZM286.46 225h2V232h-2ZM292.79 216h2V237.5h-2ZM295.95 238h2V252h-2ZM299.12 248.5h2V250h-2ZM305.44 254h2V269h-2ZM308.61 269h2V270.5h-2ZM318.1 265h2V266.5h-2ZM321.26 266.5h2V272.5h-2ZM324.43 272h2V274h-2ZM330.76 273.5h2V276h-2ZM333.92 273h2V281h-2ZM346.58 270h2V272.5h-2ZM349.74 272h2V289h-2ZM362.4 244.5h2V249h-2ZM368.72 246.5h2V251.5h-2ZM375.05 244h2V249.5h-2ZM387.71 232h2V239h-2ZM390.87 238h2V240.5h-2ZM406.69 212.5h2V224.5h-2ZM413.02 216h2V228.5h-2ZM419.35 218h2V226h-2ZM422.51 226h2V230.5h-2ZM428.84 205h2V206.5h-2ZM432 204.5h2V212h-2ZM435.17 215h2V224.5h-2ZM438.33 224.5h2V243.5h-2ZM447.82 223.5h2V227.5h-2ZM450.99 228h2V238.5h-2ZM454.15 237.5h2V249h-2ZM457.32 248.5h2V251h-2ZM460.48 251h2V263.5h-2ZM469.97 252.5h2V257.5h-2ZM473.14 259.5h2V265.5h-2ZM479.46 261.5h2V270.5h-2ZM485.79 262h2V273h-2ZM488.96 272.5h2V282h-2ZM504.78 263.5h2V271h-2ZM507.94 271h2V282.5h-2ZM511.1 283.5h2V292.5h-2ZM520.6 271h2V280h-2ZM526.92 273.5h2V277.5h-2ZM530.09 276.5h2V279h-2ZM533.25 278h2V286.5h-2ZM539.58 277h2V284h-2ZM552.24 270.5h2V275h-2ZM555.4 275.5h2V288.5h-2ZM561.73 286h2V287.5h-2ZM571.22 281h2V284.5h-2ZM580.71 260.5h2V265.5h-2ZM593.37 245.5h2V252h-2ZM609.19 232h2V233h-2ZM612.35 231.5h2V235.5h-2ZM615.52 231h2V235.5h-2ZM621.84 233h2V244.5h-2ZM628.17 235h2V236h-2ZM634.5 234.5h2V236h-2ZM637.66 234.5h2V249h-2ZM647.16 243.5h2V249h-2ZM650.32 248h2V255h-2ZM653.48 254h2V271h-2ZM666.14 262h2V272.5h-2ZM675.63 257h2V260.5h-2ZM678.8 259.5h2V264.5h-2ZM688.29 248h2V258.5h-2ZM700.94 248h2V253h-2ZM704.11 253h2V269h-2ZM707.27 268h2V274.5h-2ZM710.44 274h2V280h-2ZM713.6 281h2V301h-2ZM716.76 301h2V315.5h-2ZM723.09 312h2V313.5h-2ZM742.08 283h2V287h-2ZM745.24 286.5h2V291.5h-2ZM764.22 262h2V265h-2ZM767.39 265h2V274.5h-2ZM776.88 263.5h2V265.5h-2ZM795.86 245.5h2V248h-2ZM802.19 247h2V249.5h-2ZM808.52 244h2V248.5h-2ZM818.01 232.5h2V236.5h-2ZM821.18 237.5h2V245.5h-2ZM824.34 246h2V251.5h-2ZM833.83 231.5h2V233.5h-2ZM846.49 215.5h2V216.5h-2ZM849.65 216.5h2V227h-2ZM852.82 224.5h2V226h-2ZM862.31 210h2V211.5h-2ZM865.47 211.5h2V216h-2ZM874.96 209h2V211h-2ZM890.78 185h2V195h-2Z" fill="#f23645"/><path d="M1.75 399.89h1.9V405.6h-1.9ZM8.08 399.68h1.9V405.6h-1.9ZM11.24 400.29h1.9V405.6h-1.9ZM17.57 401.31h1.9V405.6h-1.9ZM20.73 402.95h1.9V405.6h-1.9ZM23.9 404.7h1.9V405.6h-1.9ZM65.03 394.17h1.9V405.6h-1.9ZM68.19 398.66h1.9V405.6h-1.9ZM71.36 402.33h1.9V405.6h-1.9ZM235.89 404.58h1.9V405.6h-1.9ZM251.71 402.33h1.9V405.6h-1.9ZM273.85 401.11h1.9V405.6h-1.9ZM277.02 402.33h1.9V405.6h-1.9ZM280.18 402.74h1.9V405.6h-1.9ZM292.84 399.48h1.9V405.6h-1.9ZM296 402.13h1.9V405.6h-1.9ZM299.17 403.56h1.9V405.6h-1.9ZM302.33 404.7h1.9V405.6h-1.9ZM349.79 404.38h1.9V405.6h-1.9ZM352.95 403.76h1.9V405.6h-1.9ZM368.77 395.4h1.9V405.6h-1.9ZM375.1 396.62h1.9V405.6h-1.9ZM378.27 397.44h1.9V405.6h-1.9ZM387.76 398.66h1.9V405.6h-1.9ZM390.92 399.07h1.9V405.6h-1.9ZM394.09 399.48h1.9V405.6h-1.9ZM406.74 398.66h1.9V405.6h-1.9ZM409.91 399.48h1.9V405.6h-1.9ZM413.07 401.11h1.9V405.6h-1.9ZM416.23 402.13h1.9V405.6h-1.9ZM419.4 403.15h1.9V405.6h-1.9ZM422.56 404.7h1.9V405.6h-1.9ZM432.05 403.56h1.9V405.6h-1.9ZM435.22 404.7h1.9V405.6h-1.9ZM533.3 404.58h1.9V405.6h-1.9ZM539.63 404.38h1.9V405.6h-1.9ZM542.79 404.38h1.9V405.6h-1.9ZM555.45 403.56h1.9V405.6h-1.9ZM558.61 404.38h1.9V405.6h-1.9ZM561.78 404.58h1.9V405.6h-1.9ZM564.94 404.38h1.9V405.6h-1.9ZM593.42 397.64h1.9V405.6h-1.9ZM596.58 397.64h1.9V405.6h-1.9ZM599.75 397.64h1.9V405.6h-1.9ZM609.24 397.44h1.9V405.6h-1.9ZM612.4 398.66h1.9V405.6h-1.9ZM615.57 399.68h1.9V405.6h-1.9ZM618.73 401.11h1.9V405.6h-1.9ZM621.89 402.74h1.9V405.6h-1.9ZM625.06 403.56h1.9V405.6h-1.9ZM628.22 404.17h1.9V405.6h-1.9ZM631.39 404.7h1.9V405.6h-1.9ZM634.55 404.7h1.9V405.6h-1.9ZM700.99 404.58h1.9V405.6h-1.9ZM767.44 397.44h1.9V405.6h-1.9ZM770.6 398.05h1.9V405.6h-1.9ZM776.93 398.66h1.9V405.6h-1.9ZM780.09 399.48h1.9V405.6h-1.9ZM789.59 399.48h1.9V405.6h-1.9ZM795.91 400.09h1.9V405.6h-1.9ZM799.08 400.5h1.9V405.6h-1.9ZM802.24 401.11h1.9V405.6h-1.9ZM805.41 401.52h1.9V405.6h-1.9ZM808.57 402.13h1.9V405.6h-1.9ZM818.06 403.15h1.9V405.6h-1.9ZM821.23 404.7h1.9V405.6h-1.9ZM824.39 404.7h1.9V405.6h-1.9ZM849.7 403.76h1.9V405.6h-1.9ZM852.87 404.58h1.9V405.6h-1.9ZM856.03 404.7h1.9V405.6h-1.9ZM865.52 404.7h1.9V405.6h-1.9ZM868.69 404.7h1.9V405.6h-1.9ZM875.01 404.7h1.9V405.6h-1.9ZM890.83 403.15h1.9V405.6h-1.9Z" fill="#b2dfdb"/><path d="M4.91 399.27h1.9V405.6h-1.9ZM14.41 399.48h1.9V405.6h-1.9ZM49.21 403.97h1.9V405.6h-1.9ZM52.37 402.33h1.9V405.6h-1.9ZM55.54 398.25h1.9V405.6h-1.9ZM58.7 393.15h1.9V405.6h-1.9ZM61.87 391.11h1.9V405.6h-1.9ZM96.67 404.7h1.9V405.6h-1.9ZM223.23 404.7h1.9V405.6h-1.9ZM226.39 404.38h1.9V405.6h-1.9ZM229.56 403.76h1.9V405.6h-1.9ZM232.72 403.15h1.9V405.6h-1.9ZM242.21 404.38h1.9V405.6h-1.9ZM245.38 402.33h1.9V405.6h-1.9ZM248.54 401.72h1.9V405.6h-1.9ZM254.87 401.52h1.9V405.6h-1.9ZM258.03 400.7h1.9V405.6h-1.9ZM261.2 400.5h1.9V405.6h-1.9ZM264.36 400.09h1.9V405.6h-1.9ZM267.53 399.89h1.9V405.6h-1.9ZM270.69 399.48h1.9V405.6h-1.9ZM283.35 401.11h1.9V405.6h-1.9ZM286.51 400.09h1.9V405.6h-1.9ZM289.67 397.44h1.9V405.6h-1.9ZM340.3 404.7h1.9V405.6h-1.9ZM343.46 403.97h1.9V405.6h-1.9ZM346.63 402.54h1.9V405.6h-1.9ZM356.12 400.7h1.9V405.6h-1.9ZM359.28 397.03h1.9V405.6h-1.9ZM362.45 395.6h1.9V405.6h-1.9ZM365.61 394.99h1.9V405.6h-1.9ZM371.94 394.99h1.9V405.6h-1.9ZM381.43 397.03h1.9V405.6h-1.9ZM384.59 397.03h1.9V405.6h-1.9ZM397.25 398.05h1.9V405.6h-1.9ZM400.41 397.64h1.9V405.6h-1.9ZM403.58 397.64h1.9V405.6h-1.9ZM425.73 402.74h1.9V405.6h-1.9ZM428.89 402.13h1.9V405.6h-1.9ZM520.65 404.58h1.9V405.6h-1.9ZM523.81 403.97h1.9V405.6h-1.9ZM526.97 403.97h1.9V405.6h-1.9ZM530.14 404.17h1.9V405.6h-1.9ZM536.47 403.97h1.9V405.6h-1.9ZM545.96 403.76h1.9V405.6h-1.9ZM549.12 402.13h1.9V405.6h-1.9ZM552.29 402.13h1.9V405.6h-1.9ZM568.11 403.97h1.9V405.6h-1.9ZM571.27 403.76h1.9V405.6h-1.9ZM574.43 402.33h1.9V405.6h-1.9ZM577.6 400.29h1.9V405.6h-1.9ZM580.76 399.68h1.9V405.6h-1.9ZM583.93 399.07h1.9V405.6h-1.9ZM587.09 398.25h1.9V405.6h-1.9ZM590.25 397.03h1.9V405.6h-1.9ZM602.91 397.44h1.9V405.6h-1.9ZM606.07 397.03h1.9V405.6h-1.9ZM685.17 404.7h1.9V405.6h-1.9ZM688.34 404.7h1.9V405.6h-1.9ZM691.5 404.58h1.9V405.6h-1.9ZM694.67 404.17h1.9V405.6h-1.9ZM697.83 403.15h1.9V405.6h-1.9ZM742.13 403.76h1.9V405.6h-1.9ZM745.29 402.74h1.9V405.6h-1.9ZM748.45 401.11h1.9V405.6h-1.9ZM751.62 400.09h1.9V405.6h-1.9ZM754.78 399.07h1.9V405.6h-1.9ZM757.95 398.05h1.9V405.6h-1.9ZM761.11 397.03h1.9V405.6h-1.9ZM764.27 396.42h1.9V405.6h-1.9ZM773.77 398.05h1.9V405.6h-1.9ZM783.26 399.07h1.9V405.6h-1.9ZM786.42 398.66h1.9V405.6h-1.9ZM792.75 399.48h1.9V405.6h-1.9ZM811.73 401.52h1.9V405.6h-1.9ZM814.9 401.72h1.9V405.6h-1.9ZM830.72 404.7h1.9V405.6h-1.9ZM833.88 404.17h1.9V405.6h-1.9ZM837.05 403.36h1.9V405.6h-1.9ZM840.21 402.74h1.9V405.6h-1.9ZM843.37 402.13h1.9V405.6h-1.9ZM846.54 402.33h1.9V405.6h-1.9ZM859.19 404.17h1.9V405.6h-1.9ZM862.36 404.38h1.9V405.6h-1.9ZM871.85 404.7h1.9V405.6h-1.9ZM878.18 404.58h1.9V405.6h-1.9ZM881.34 404.17h1.9V405.6h-1.9ZM884.51 403.36h1.9V405.6h-1.9ZM887.67 402.54h1.9V405.6h-1.9Z" fill="#1f9e8f"/><path d="M30.23 405.6h1.9V407.44h-1.9ZM33.39 405.6h1.9V407.03h-1.9ZM36.55 405.6h1.9V406.82h-1.9ZM46.05 405.6h1.9V406.82h-1.9ZM74.52 405.6h1.9V406.5h-1.9ZM84.01 405.6h1.9V410.5h-1.9ZM87.18 405.6h1.9V409.07h-1.9ZM90.34 405.6h1.9V407.44h-1.9ZM93.51 405.6h1.9V406.5h-1.9ZM103 405.6h1.9V407.44h-1.9ZM112.49 405.6h1.9V411.11h-1.9ZM115.65 405.6h1.9V410.5h-1.9ZM134.64 405.6h1.9V418.66h-1.9ZM137.8 405.6h1.9V416.01h-1.9ZM140.97 405.6h1.9V413.56h-1.9ZM144.13 405.6h1.9V411.11h-1.9ZM147.29 405.6h1.9V407.44h-1.9ZM159.95 405.6h1.9V414.3h-1.9ZM175.77 405.6h1.9V425.8h-1.9ZM178.93 405.6h1.9V423.76h-1.9ZM182.1 405.6h1.9V420.7h-1.9ZM185.26 405.6h1.9V416.62h-1.9ZM188.43 405.6h1.9V413.97h-1.9ZM197.92 405.6h1.9V410.29h-1.9ZM201.08 405.6h1.9V409.27h-1.9ZM204.25 405.6h1.9V407.64h-1.9ZM207.41 405.6h1.9V406.82h-1.9ZM216.9 405.6h1.9V408.25h-1.9ZM220.07 405.6h1.9V406.5h-1.9ZM239.05 405.6h1.9V406.5h-1.9ZM311.82 405.6h1.9V408.46h-1.9ZM314.99 405.6h1.9V408.05h-1.9ZM318.15 405.6h1.9V407.64h-1.9ZM324.48 405.6h1.9V407.44h-1.9ZM327.64 405.6h1.9V407.23h-1.9ZM330.81 405.6h1.9V407.03h-1.9ZM337.13 405.6h1.9V406.5h-1.9ZM444.71 405.6h1.9V409.89h-1.9ZM447.87 405.6h1.9V409.89h-1.9ZM466.86 405.6h1.9V414.99h-1.9ZM470.02 405.6h1.9V414.99h-1.9ZM476.35 405.6h1.9V413.76h-1.9ZM482.68 405.6h1.9V412.95h-1.9ZM485.84 405.6h1.9V412.33h-1.9ZM492.17 405.6h1.9V411.31h-1.9ZM495.33 405.6h1.9V410.29h-1.9ZM498.5 405.6h1.9V409.27h-1.9ZM501.66 405.6h1.9V407.64h-1.9ZM504.83 405.6h1.9V406.5h-1.9ZM514.32 405.6h1.9V407.64h-1.9ZM517.48 405.6h1.9V406.5h-1.9ZM659.86 405.6h1.9V414.38h-1.9ZM663.03 405.6h1.9V413.36h-1.9ZM669.35 405.6h1.9V412.33h-1.9ZM672.52 405.6h1.9V410.29h-1.9ZM675.68 405.6h1.9V409.27h-1.9ZM678.85 405.6h1.9V408.66h-1.9ZM682.01 405.6h1.9V406.5h-1.9ZM726.31 405.6h1.9V416.42h-1.9ZM729.47 405.6h1.9V414.38h-1.9ZM732.63 405.6h1.9V411.31h-1.9ZM735.8 405.6h1.9V408.25h-1.9ZM738.96 405.6h1.9V406.5h-1.9Z" fill="#ffcdd2"/><path d="M27.06 405.6h1.9V409.48h-1.9ZM39.72 405.6h1.9V408.05h-1.9ZM42.88 405.6h1.9V408.87h-1.9ZM77.69 405.6h1.9V412.13h-1.9ZM80.85 405.6h1.9V411.93h-1.9ZM99.83 405.6h1.9V407.03h-1.9ZM106.16 405.6h1.9V409.89h-1.9ZM109.33 405.6h1.9V411.93h-1.9ZM118.82 405.6h1.9V412.13h-1.9ZM121.98 405.6h1.9V413.56h-1.9ZM125.15 405.6h1.9V416.62h-1.9ZM128.31 405.6h1.9V421.31h-1.9ZM131.47 405.6h1.9V421.11h-1.9ZM150.46 405.6h1.9V409.89h-1.9ZM153.62 405.6h1.9V412.13h-1.9ZM156.79 405.6h1.9V414.58h-1.9ZM163.11 405.6h1.9V418.4h-1.9ZM166.28 405.6h1.9V424.5h-1.9ZM169.44 405.6h1.9V426.82h-1.9ZM172.61 405.6h1.9V426.82h-1.9ZM191.59 405.6h1.9V413.15h-1.9ZM194.75 405.6h1.9V413.76h-1.9ZM210.57 405.6h1.9V408.87h-1.9ZM213.74 405.6h1.9V409.89h-1.9ZM305.49 405.6h1.9V407.23h-1.9ZM308.66 405.6h1.9V409.27h-1.9ZM321.31 405.6h1.9V407.84h-1.9ZM333.97 405.6h1.9V407.44h-1.9ZM438.38 405.6h1.9V409.27h-1.9ZM441.55 405.6h1.9V411.31h-1.9ZM451.04 405.6h1.9V411.72h-1.9ZM454.2 405.6h1.9V412.95h-1.9ZM457.37 405.6h1.9V413.76h-1.9ZM460.53 405.6h1.9V415.8h-1.9ZM463.69 405.6h1.9V416.42h-1.9ZM473.19 405.6h1.9V415.4h-1.9ZM479.51 405.6h1.9V413.97h-1.9ZM489.01 405.6h1.9V412.95h-1.9ZM507.99 405.6h1.9V407.64h-1.9ZM511.15 405.6h1.9V408.87h-1.9ZM637.71 405.6h1.9V407.84h-1.9ZM640.88 405.6h1.9V408.46h-1.9ZM644.04 405.6h1.9V408.87h-1.9ZM647.21 405.6h1.9V409.68h-1.9ZM650.37 405.6h1.9V411.31h-1.9ZM653.53 405.6h1.9V413.76h-1.9ZM656.7 405.6h1.9V415.4h-1.9ZM666.19 405.6h1.9V414.78h-1.9ZM704.16 405.6h1.9V407.23h-1.9ZM707.32 405.6h1.9V408.87h-1.9ZM710.49 405.6h1.9V410.29h-1.9ZM713.65 405.6h1.9V412.95h-1.9ZM716.81 405.6h1.9V415.8h-1.9ZM719.98 405.6h1.9V418.05h-1.9ZM723.14 405.6h1.9V418.87h-1.9ZM827.55 405.6h1.9V406.5h-1.9Z" fill="#ff5252"/><path d="M0 385.71L2.7 384.16L5.86 382.38L9.03 380.72L12.19 379.21L15.36 377.88L18.52 376.91L21.68 376.52L24.85 376.56L28.01 377.03L31.18 377.66L34.34 378.27L37.5 378.92L40.67 379.66L43.83 380.54L47 381.02L50.16 380.56L53.32 379.01L56.49 376.22L59.65 373L62.82 369.59L65.98 366.9L69.14 365.37L72.31 364.89L75.47 365.62L78.64 366.71L81.8 368L84.96 369.18L88.13 369.85L91.29 370.18L94.46 370.46L97.62 370.61L100.78 370.83L103.95 371.43L107.11 372.34L110.28 373.5L113.44 374.82L116.6 376.44L119.77 378.59L122.93 381.31L126.1 384.28L129.26 387.42L132.42 390.7L135.59 393.64L138.75 396.35L141.92 398.51L145.08 399.48L148.24 399.48L151.41 400.19L154.57 402.12L157.74 404.74L160.9 408L164.06 412.35L167.23 417.69L170.39 423.75L173.56 428.65L176.72 432.69L179.88 436.38L183.05 439.32L186.21 441.43L189.38 443.19L192.54 444.83L195.7 446.44L198.87 447.93L202.03 449.02L205.2 449.49L208.36 450.08L211.52 451.04L214.69 451.55L217.85 451.51L221.02 451.35L224.18 451.13L227.34 450.85L230.51 450.49L233.67 450.07L236.84 449.68L240 449.4L243.16 448.96L246.33 448.04L249.49 446.78L252.66 445.52L255.82 444.34L258.98 443.15L262.15 441.96L265.31 440.78L268.48 439.59L271.64 438.4L274.8 437.22L277.97 436.04L281.13 434.91L284.3 433.68L287.46 432.14L290.62 430.44L293.79 429.12L296.95 428.56L300.12 428.23L303.28 427.9L306.44 428.14L309.61 428.87L312.77 429.66L315.94 430.33L319.1 430.96L322.26 431.57L325.43 432.17L328.59 432.71L331.76 433.1L334.92 433.37L338.08 433.47L341.25 433.34L344.41 433.05L347.58 432.66L350.74 432.21L353.9 431.51L357.07 430.28L360.23 428.42L363.4 425.92L366.56 423.16L369.72 420.49L372.89 417.9L376.05 415.44L379.22 413.06L382.38 410.69L385.54 408.49L388.71 406.65L391.87 404.86L395.04 403.08L398.2 401.22L401.36 399.31L404.53 397.35L407.69 395.45L410.86 393.97L414.02 392.81L417.18 391.94L420.35 391.28L423.51 390.64L426.68 390.01L429.84 389.23L433 388.55L436.17 388.44L439.33 389.27L442.5 390.42L445.66 391.4L448.82 392.5L451.99 394.11L455.15 396.03L458.32 398.05L461.48 400.24L464.64 402.65L467.81 405.09L470.97 407.47L474.14 409.69L477.3 411.62L480.46 413.45L483.63 415.27L486.79 417L489.96 418.64L493.12 420.02L496.28 421.1L499.45 421.95L502.61 422.57L505.78 423.09L508.94 423.5L512.1 423.9L515.27 424.27L518.43 424.08L521.6 423.44L524.76 423L527.92 422.63L531.09 422.2L534.25 421.66L537.42 421.08L540.58 420.56L543.74 420.08L546.91 419.62L550.07 419.21L553.24 418.83L556.4 418.43L559.56 418.04L562.73 417.64L565.89 417.28L569.06 416.93L572.22 416.41L575.38 415.58L578.55 414.34L581.71 412.68L584.88 410.84L588.04 408.9L591.2 406.89L594.37 404.8L597.53 402.67L600.7 400.56L603.86 398.44L607.02 396.26L610.19 394.29L613.35 392.65L616.52 391.27L619.68 390.19L622.84 389.28L626.01 388.49L629.17 387.97L632.34 387.59L635.5 387.52L638.66 387.97L641.83 388.8L644.99 389.9L648.16 391.42L651.32 393.27L654.48 395.4L657.65 397.56L660.81 399.7L663.98 401.69L667.14 403.52L670.3 404.99L673.47 406.12L676.63 407.05L679.8 407.77L682.96 408.22L686.12 408.38L689.29 408.21L692.45 407.85L695.62 407.51L698.78 407.14L701.94 406.89L705.11 407.23L708.27 408.39L711.44 410.09L714.6 412.3L717.76 414.78L720.93 417.48L724.09 420.22L727.26 422.85L730.42 424.82L733.58 426.2L736.75 426.76L739.91 426.74L743.08 426.53L746.24 425.91L749.4 424.74L752.57 423.14L755.73 421.09L758.9 418.9L762.06 416.79L765.22 414.68L768.39 412.5L771.55 410.56L774.72 409.01L777.88 407.34L781.04 405.31L784.21 403.54L787.37 401.7L790.54 399.76L793.7 397.99L796.86 396.41L800.03 395L803.19 393.76L806.36 392.54L809.52 391.37L812.68 390.45L815.85 389.75L819.01 389.27L822.18 389.01L825.34 389.04L828.5 389.19L831.67 389.03L834.83 388.62L838 387.85L841.16 386.96L844.32 386.15L847.49 385.49L850.65 385.11L853.82 384.87L856.98 384.7L860.14 384.56L863.31 384.41L866.47 384.25L869.64 384.09L872.8 383.97L875.96 383.83L879.13 383.54L882.29 383.08L885.46 382.56L888.62 382.02L891.78 381.44" fill="none" stroke="#ff7d26" stroke-width="1" stroke-linejoin="round"/><path d="M0 379.18L2.7 378.04L5.86 376.65L9.03 375.07L12.19 373.49L15.36 372.19L18.52 372.29L21.68 373.9L24.85 376.99L28.01 381.13L31.18 380.27L34.34 380.13L37.5 380.74L40.67 381.65L43.83 382.69L47 381.48L50.16 378.44L53.32 375.64L56.49 368.63L59.65 360.94L62.82 355.53L65.98 355.91L69.14 358.95L72.31 361.87L75.47 366.79L78.64 371.79L81.8 374.13L84.96 374.46L88.13 373.98L91.29 372.6L94.46 371.26L97.62 370.97L100.78 372.27L103.95 372.91L107.11 375.95L110.28 379.64L113.44 380.72L116.6 381.8L119.77 383.93L122.93 387.46L126.1 393.96L129.26 399.97L132.42 404.82L135.59 407.3L138.75 407.61L141.92 407.07L145.08 404.56L148.24 400.65L151.41 403.28L154.57 407.58L157.74 411.94L160.9 415.69L164.06 424.84L167.23 433.15L170.39 442.09L173.56 445.97L176.72 447.57L179.88 448.88L183.05 450.07L186.21 451.17L189.38 452.21L192.54 453.18L195.7 454.04L198.87 453.9L202.03 451.35L205.2 448.78L208.36 449.22L211.52 452.1L214.69 455L217.85 454.18L221.02 452.31L224.18 450.61L227.34 450.08L230.51 448.97L233.67 447.76L236.84 449.15L240 449.48L243.16 447.34L246.33 444.69L249.49 442.53L252.66 442.83L255.82 441.78L258.98 439.45L262.15 437.58L265.31 436.05L268.48 434.41L271.64 432.79L274.8 432.23L277.97 432.81L281.13 432.84L284.3 429.98L287.46 426.37L290.62 423.3L293.79 423.23L296.95 424.59L300.12 426.12L303.28 427.42L306.44 429.89L309.61 431.56L312.77 432.55L315.94 433.05L319.1 433.42L322.26 433.84L325.43 434.24L328.59 434.6L331.76 435L334.92 435.18L338.08 434.27L341.25 432.27L344.41 430.43L347.58 429.81L350.74 430.5L353.9 430.55L357.07 427.11L360.23 421.82L363.4 416.72L366.56 412.96L369.72 409.98L372.89 407.76L376.05 406.27L379.22 404.51L382.38 401.72L385.54 399.4L388.71 398.51L391.87 397.51L395.04 396.3L398.2 394.11L401.36 391.27L404.53 389.17L407.69 387.73L410.86 387.48L414.02 387.93L417.18 387.86L420.35 388.26L423.51 390L426.68 387.42L429.84 385.6L433 385.99L436.17 388.86L439.33 393.2L442.5 396.6L445.66 396.73L448.82 397.22L451.99 399.54L455.15 403.33L458.32 406.97L461.48 410.24L464.64 412.97L467.81 415.07L470.97 416.9L474.14 418.49L477.3 419.77L480.46 420.74L483.63 422.04L486.79 423.75L489.96 425.53L493.12 426.22L496.28 425.88L499.45 424.52L502.61 423.05L505.78 422.29L508.94 423.65L512.1 425.76L515.27 426L518.43 424.46L521.6 422.7L524.76 421.59L527.92 420.93L531.09 421.1L534.25 420.93L537.42 419.96L540.58 419.48L543.74 419.47L546.91 418.28L550.07 416.13L553.24 414.99L556.4 415.31L559.56 416.23L562.73 416.47L565.89 415.85L569.06 415.35L572.22 414.86L575.38 412.95L578.55 410.37L581.71 407.61L584.88 404L588.04 401.23L591.2 398.72L594.37 396.62L597.53 394.47L600.7 391.8L603.86 389.22L607.02 386.91L610.19 385.23L613.35 384.42L616.52 383.97L619.68 384.08L622.84 385.61L626.01 386.24L629.17 386.46L632.34 386.65L635.5 387.37L638.66 389.56L641.83 391.75L644.99 393.83L648.16 396.09L651.32 398.77L654.48 402.62L657.65 406.06L660.81 408.53L663.98 410.13L667.14 411.2L670.3 412.03L673.47 411.55L676.63 410.95L679.8 410.84L682.96 409.58L686.12 407.94L689.29 407.92L692.45 407.76L695.62 407.07L698.78 406.24L701.94 406.02L705.11 407.25L708.27 409.06L711.44 412.16L714.6 417.16L717.76 423.65L720.93 428.43L724.09 431.62L727.26 433.67L730.42 433.98L733.58 432.67L736.75 430.5L739.91 427.55L743.08 424.56L746.24 422.23L749.4 419.04L752.57 416.08L755.73 413.61L758.9 411.09L762.06 408.54L765.22 405.83L768.39 404.17L771.55 403.29L774.72 402L777.88 400.38L781.04 398.32L784.21 395.99L787.37 393.96L790.54 392.37L793.7 391.04L796.86 389.96L800.03 389.42L803.19 389.36L806.36 388.61L809.52 387.32L812.68 386.35L815.85 385.63L819.01 385.76L822.18 387.85L825.34 389.59L828.5 389.96L831.67 389.15L834.83 387.59L838 385.56L841.16 383.95L844.32 382.7L847.49 382.4L850.65 383.34L853.82 384.53L856.98 384.19L860.14 383.31L863.31 383.09L866.47 383.39L869.64 383.5L872.8 383.47L875.96 383.55L879.13 383.58L882.29 382.74L885.46 381.26L888.62 379.58L891.78 379.78" fill="none" stroke="#4a78f0" stroke-width="1" stroke-linejoin="round"/></g><filter id="tb" x="-2%" y="-20%" width="104%" height="140%"><feGaussianBlur stdDeviation="0.22"/></filter><g filter="url(#tb)"><text x="4.1" y="12.3" font-size="9.5" fill="#262a35" textLength="92.6" lengthAdjust="spacingAndGlyphs">U.S. Dollar Index, 1D, TVC</text><text x="102" y="12.3" font-size="9.5" fill="#262a35" textLength="5.8" lengthAdjust="spacingAndGlyphs">O</text><text x="108" y="12.3" font-size="9.5" fill="#f23645" textLength="28.3" lengthAdjust="spacingAndGlyphs">106.676</text><text x="141.7" y="12.3" font-size="9.5" fill="#262a35" textLength="5.6" lengthAdjust="spacingAndGlyphs">H</text><text x="147.6" y="12.3" font-size="9.5" fill="#f23645" textLength="28.3" lengthAdjust="spacingAndGlyphs">106.755</text><text x="180.9" y="12.3" font-size="9.5" fill="#262a35" textLength="4.3" lengthAdjust="spacingAndGlyphs">L</text><text x="185.4" y="12.3" font-size="9.5" fill="#f23645" textLength="28" lengthAdjust="spacingAndGlyphs">106.021</text><text x="218.3" y="12.3" font-size="9.5" fill="#262a35" textLength="5.6" lengthAdjust="spacingAndGlyphs">C</text><text x="224.2" y="12.3" font-size="9.5" fill="#f23645" textLength="27" lengthAdjust="spacingAndGlyphs">106.221</text><text x="256.5" y="12.3" font-size="9.5" fill="#f23645" textLength="25.4" lengthAdjust="spacingAndGlyphs">−0.432</text><text x="285.6" y="12.3" font-size="9.5" fill="#f23645" textLength="31.2" lengthAdjust="spacingAndGlyphs">(−0.41%)</text><rect x="941.5" y="1.5" width="38" height="17" rx="3" fill="#fff" stroke="#e7e9f0" stroke-width="1"/><text x="947.6" y="12.4" font-size="9.3" fill="#262a35" textLength="16" lengthAdjust="spacingAndGlyphs">USD</text><text x="944.9" y="51.4" font-size="9.2" fill="#262a35" textLength="30.8" lengthAdjust="spacingAndGlyphs">114.000</text><text x="944.9" y="88.85" font-size="9.2" fill="#262a35" textLength="30.8" lengthAdjust="spacingAndGlyphs">112.000</text><text x="944.9" y="126.3" font-size="9.2" fill="#262a35" textLength="30.8" lengthAdjust="spacingAndGlyphs">110.000</text><text x="944.9" y="163.75" font-size="9.2" fill="#262a35" textLength="30.8" lengthAdjust="spacingAndGlyphs">108.000</text><text x="944.9" y="201.2" font-size="9.2" fill="#262a35" textLength="30.8" lengthAdjust="spacingAndGlyphs">106.000</text><text x="944.9" y="238.65" font-size="9.2" fill="#262a35" textLength="30.8" lengthAdjust="spacingAndGlyphs">104.000</text><text x="944.9" y="276.1" font-size="9.2" fill="#262a35" textLength="30.8" lengthAdjust="spacingAndGlyphs">102.000</text><text x="944.9" y="313.55" font-size="9.2" fill="#262a35" textLength="30.8" lengthAdjust="spacingAndGlyphs">100.000</text><text x="944.4" y="371.9" font-size="9" fill="#262a35" textLength="21.6" lengthAdjust="spacingAndGlyphs">1.000</text><text x="944.4" y="408.6" font-size="9" fill="#262a35" textLength="21.6" lengthAdjust="spacingAndGlyphs">0.000</text><text x="939.6" y="444.7" font-size="9" fill="#262a35" textLength="26.4" lengthAdjust="spacingAndGlyphs">−1.000</text><text x="-0.1" y="467.2" font-size="9" fill="#262a35" textLength="12.6" lengthAdjust="spacingAndGlyphs">Sep</text><text x="69" y="467.2" font-size="9" fill="#262a35" textLength="12.8" lengthAdjust="spacingAndGlyphs">Oct</text><text x="134.75" y="467.2" font-size="9" fill="#262a35" textLength="14.1" lengthAdjust="spacingAndGlyphs">Nov</text><text x="203.65" y="467.2" font-size="9" fill="#262a35" textLength="13.5" lengthAdjust="spacingAndGlyphs">Dec</text><text x="343.6" y="467.2" font-size="9" fill="#262a35" textLength="12.8" lengthAdjust="spacingAndGlyphs">Feb</text><text x="406.75" y="467.2" font-size="9" fill="#262a35" textLength="13.9" lengthAdjust="spacingAndGlyphs">Mar</text><text x="480.25" y="467.2" font-size="9" fill="#262a35" textLength="12.5" lengthAdjust="spacingAndGlyphs">Apr</text><text x="542.75" y="467.2" font-size="9" fill="#262a35" textLength="14.9" lengthAdjust="spacingAndGlyphs">May</text><text x="616" y="467.2" font-size="9" fill="#262a35" textLength="12.8" lengthAdjust="spacingAndGlyphs">Jun</text><text x="687.2" y="467.2" font-size="9" fill="#262a35" textLength="9" lengthAdjust="spacingAndGlyphs">Jul</text><text x="751.7" y="467.2" font-size="9" fill="#262a35" textLength="13.2" lengthAdjust="spacingAndGlyphs">Aug</text><text x="824.6" y="467.2" font-size="9" fill="#262a35" textLength="13.2" lengthAdjust="spacingAndGlyphs">Sep</text><text x="891.6" y="467.2" font-size="9" fill="#262a35" textLength="12.8" lengthAdjust="spacingAndGlyphs">Oct</text><text x="271" y="467.2" font-size="9" fill="#262a35" textLength="20.2" lengthAdjust="spacingAndGlyphs" font-weight="bold">2023</text></g><g transform="translate(0.5 0.5)" fill="none" stroke="#c9c9c9" stroke-width="0.8"><path d="M807.2 422a13.7 11.6 0 1 1 6.5 9.9l-3.2 4.1 -0.3 -5.6a13.7 11.6 0 0 1 -3 -8.4z"/><path d="M845.9 431.2a12.2 10.6 0 1 0 -6.4 9.3l3.5 2.9 -0.5 -4.6a12.2 10.6 0 0 0 3.4 -7.6z"/></g><g transform="translate(0 0)" fill="#fff" stroke="#b3b3b3" stroke-width="0.8"><path d="M807.2 422a13.7 11.6 0 1 1 6.5 9.9l-3.2 4.1 -0.3 -5.6a13.7 11.6 0 0 1 -3 -8.4z"/><path d="M845.9 431.2a12.2 10.6 0 1 0 -6.4 9.3l3.5 2.9 -0.5 -4.6a12.2 10.6 0 0 0 3.4 -7.6z"/></g><circle cx="815.6" cy="418" r="1.3" fill="#fff" stroke="#aaa" stroke-width="0.7"/><circle cx="826.5" cy="418" r="1.3" fill="#fff" stroke="#aaa" stroke-width="0.7"/><circle cx="829.6" cy="426.6" r="1.3" fill="#fff" stroke="#aaa" stroke-width="0.7"/><circle cx="838.3" cy="426.6" r="1.3" fill="#fff" stroke="#aaa" stroke-width="0.7"/><text x="854.05 877.75 901.45 925.15" y="437.85" font-size="23.9" fill="#4a4a4a" fill-opacity="0.95" font-family="'Liberation Sans', 'Noto Sans CJK SC', sans-serif">缠见如故</text><text x="853.2 876.9 900.6 924.3" y="437" font-size="23.9" fill="#fff" fill-opacity="1" font-family="'Liberation Sans', 'Noto Sans CJK SC', sans-serif">缠见如故</text></svg></body></html>
